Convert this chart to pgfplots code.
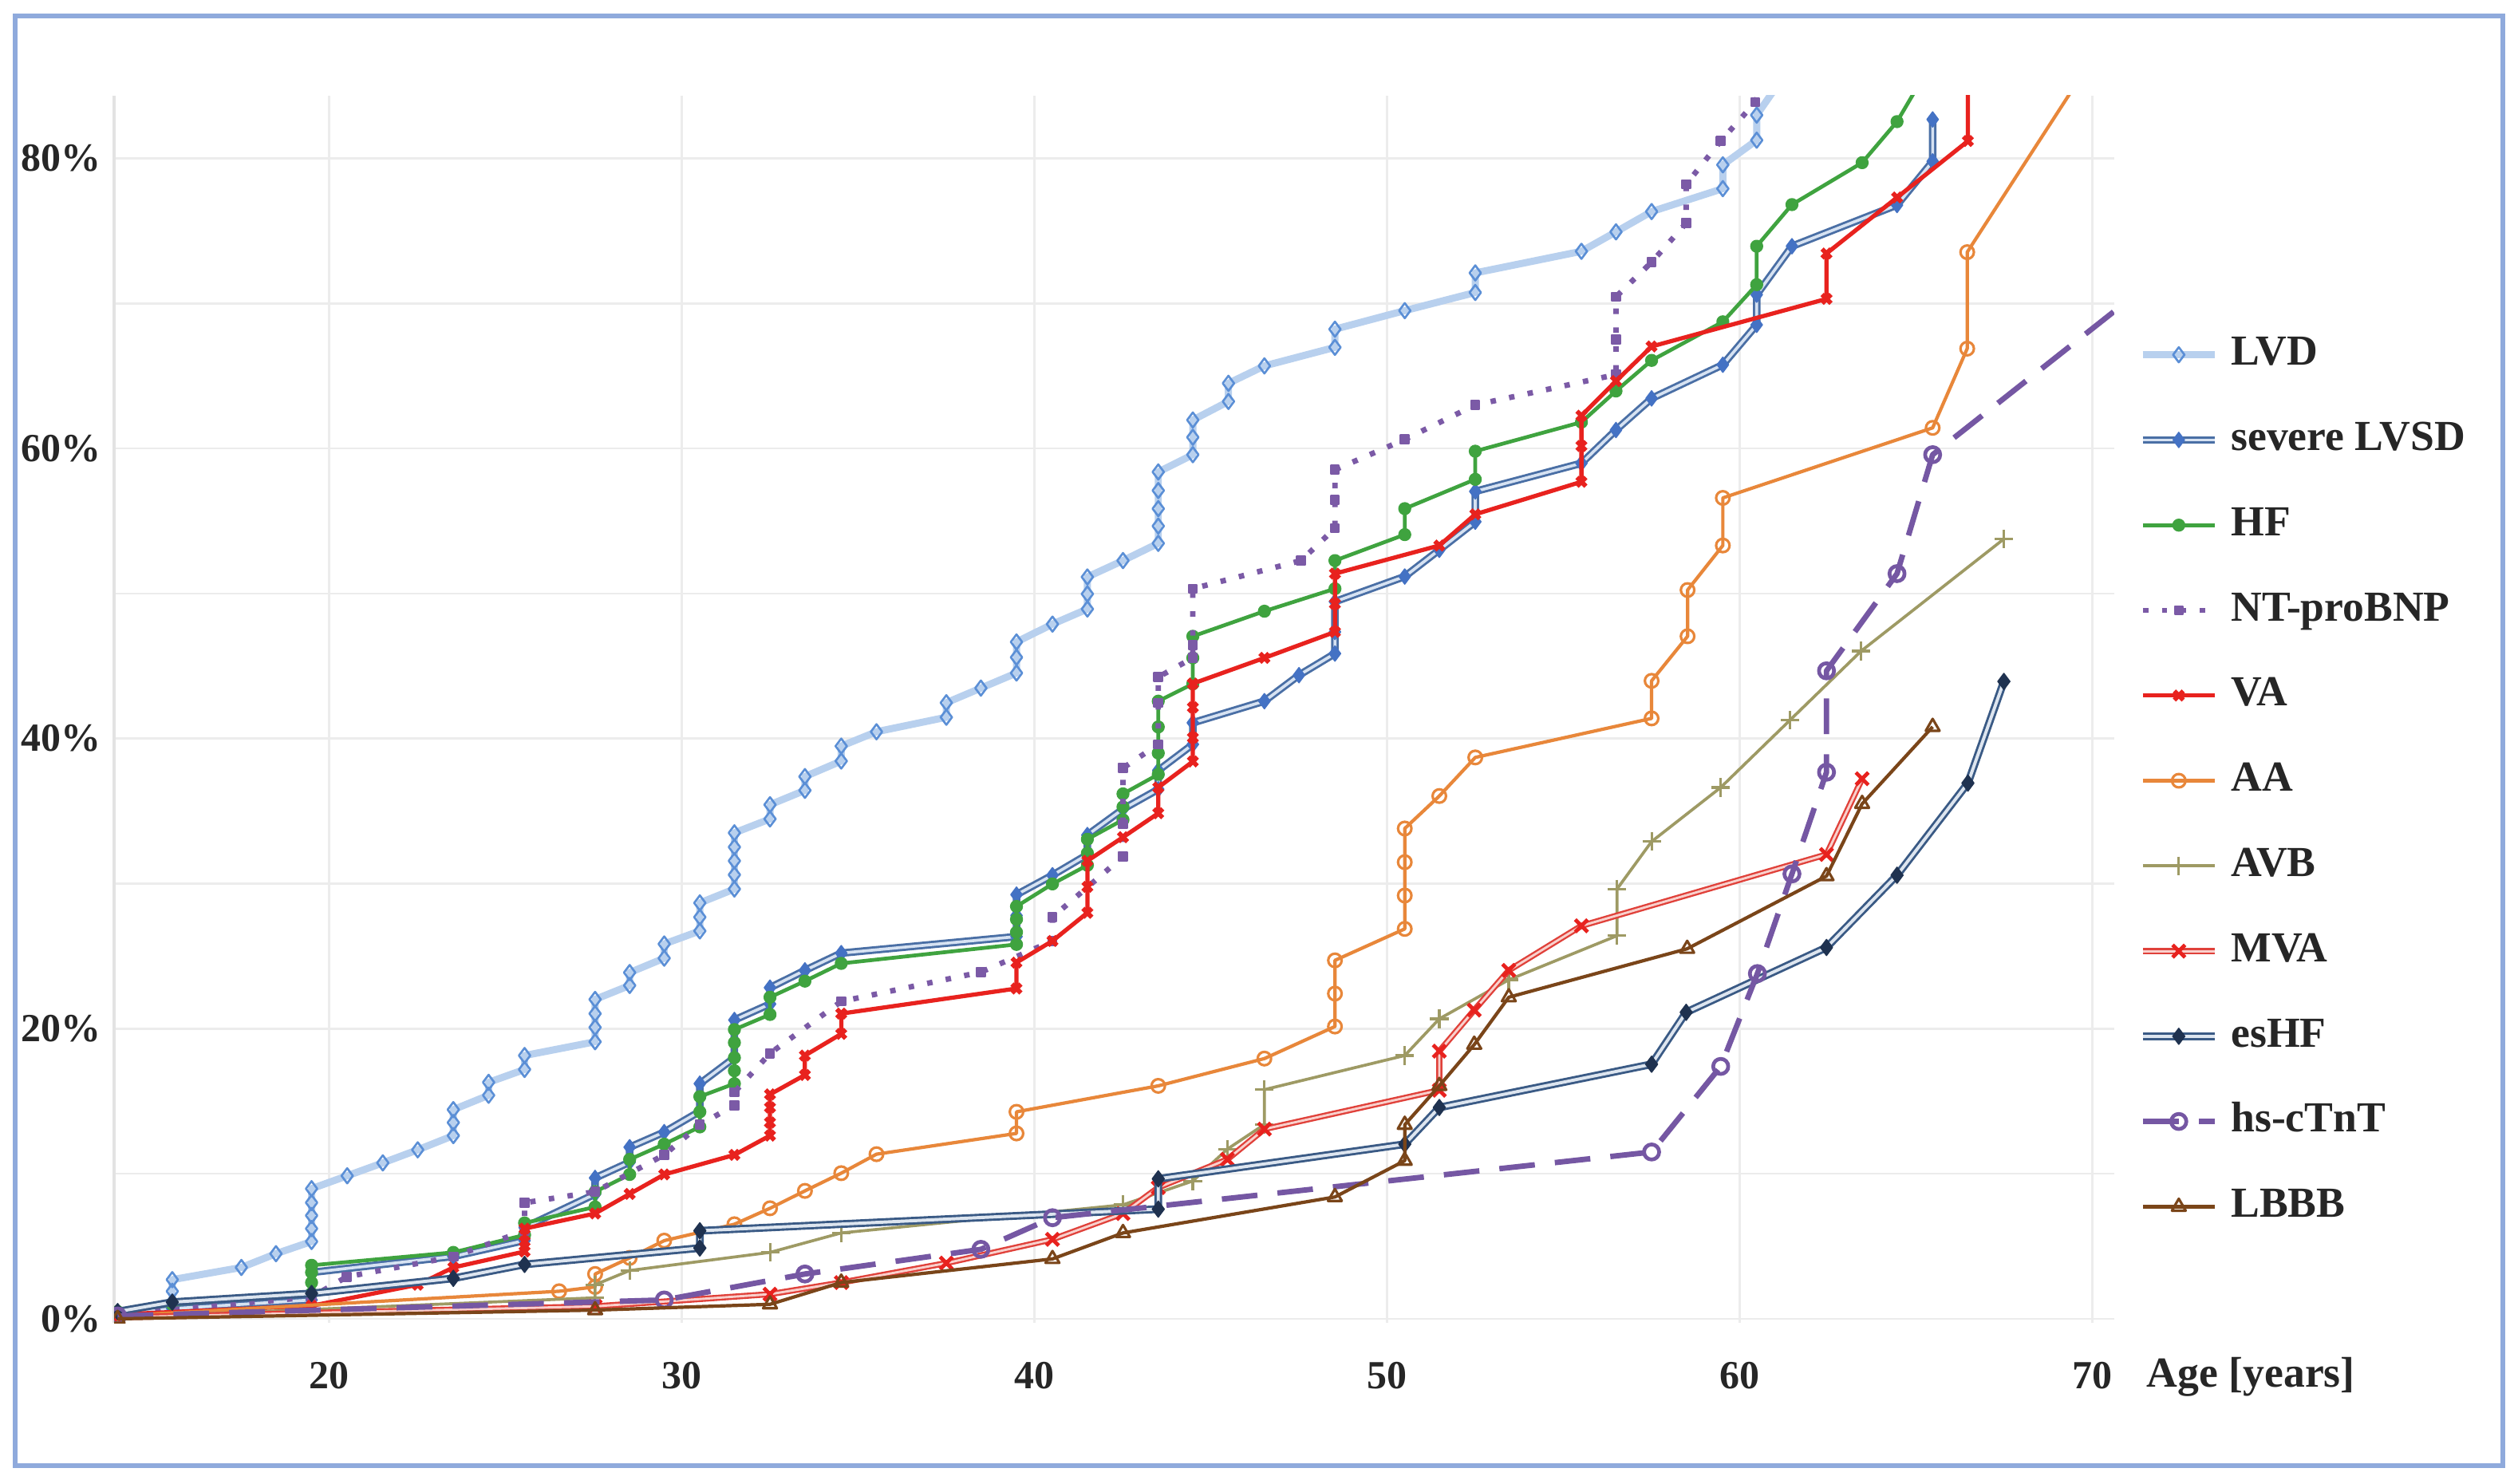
\documentclass[border=0pt]{standalone}
\usepackage{pgfplots}
\pgfplotsset{compat=1.18}
\usepackage{fontspec}
\setmainfont{Liberation Serif}

\definecolor{framec}{HTML}{8FAADC}
\definecolor{lvdline}{HTML}{B8D0EE}
\definecolor{lvdmark}{HTML}{5B8FD6}
\definecolor{svouter}{HTML}{4A6FA5}
\definecolor{svcore}{HTML}{D6E2F2}
\definecolor{svmark}{HTML}{4472C4}
\definecolor{hfc}{HTML}{3FA33F}
\definecolor{ntpc}{HTML}{7B5AA6}
\definecolor{vac}{HTML}{E8221E}
\definecolor{aac}{HTML}{E8873A}
\definecolor{avbc}{HTML}{9E9A64}
\definecolor{mvaouter}{HTML}{E0413A}
\definecolor{mvacore}{HTML}{F9D0CC}
\definecolor{esouter}{HTML}{3A5A85}
\definecolor{escore}{HTML}{DDE5EF}
\definecolor{esmark}{HTML}{1F3250}
\definecolor{hscc}{HTML}{7557A3}
\definecolor{lbbbc}{HTML}{7A4519}

\begin{document}
\begin{tikzpicture}
\useasboundingbox (0,0) rectangle (600pt,353.6pt);
\fill[white] (0,0) rectangle (600pt,353.6pt);
\draw[framec, line width=1.1pt] (3.6pt,4.4pt) rectangle (596.4pt,349.8pt);
\begin{axis}[
  at={(27.19pt,38.31pt)}, anchor=south west,
  scale only axis, width=476.6pt, height=292.5pt,
  xmin=13.9, xmax=70.62, ymin=-0.3, ymax=84.32,
  axis lines*=left,
  axis line style={draw=gray!22, line width=0.6pt},
  x axis line style={draw=none},
  major tick length=0pt, minor tick length=0pt,
  xtick={20,30,...,70}, ytick={0,20,...,80}, minor ytick={10,30,50,70},
  xmajorgrids, ymajorgrids, yminorgrids,
  major grid style={gray!15, line width=0.5pt},
  minor grid style={gray!15, line width=0.5pt},
  /pgf/number format/assume math mode=true,
  yticklabel={\pgfmathprintnumber{\tick}\%},
  ticklabel style={font=\fontsize{9.5}{11}\selectfont\bfseries, text=black!85},
  xticklabel style={yshift=-5.8pt},
  yticklabel style={xshift=0.3pt},
  xlabel={Age [years]},
  xlabel style={at={(rel axis cs:1,0)}, anchor=west, inner sep=0pt,
    xshift=7.6pt, yshift=-12.8pt, font=\fontsize{10.2}{12}\selectfont\bfseries, text=black!85},
  legend style={at={(rel axis cs:1.012,0.805)}, anchor=north west, draw=none, fill=none,
    inner sep=0pt, row sep=11.3pt, column sep=3pt,
    font=\fontsize{10.2}{12}\selectfont\bfseries, text=black!85,
    nodes={inner sep=0pt, text height=7pt, text depth=2pt}},
  legend cell align=left,
  clip marker paths=true,
  every axis plot/.append style={line join=round},
]

% LVD
\addplot[lvdline, line width=1.7pt, mark=diamond, mark size=1.8pt,
  mark options={draw=lvdmark, fill=white, line width=0.5pt}] coordinates {
(14.0,0.4)(15.55,1.16)(15.55,1.9)(15.55,2.7)(17.51,3.54)(18.49,4.49)(19.5,5.33)(19.5,6.22)(19.5,7.12)(19.5,8.01)(19.5,8.97)
(20.51,9.86)(21.52,10.75)(22.51,11.65)(23.52,12.63)(23.52,13.53)(23.52,14.42)(24.52,15.41)(24.52,16.3)(25.54,17.19)(25.54,18.15)
(27.54,19.1)(27.54,20.09)(27.54,21.04)(27.54,22.02)(28.52,22.98)(28.52,23.87)(29.5,24.86)(29.5,25.84)(30.51,26.74)(30.51,27.69)(30.51,28.67)
(31.49,29.63)(31.49,30.61)(31.49,31.57)(31.49,32.52)(31.49,33.5)(32.5,34.46)(32.5,35.44)(33.49,36.43)(33.49,37.38)(34.52,38.45)(34.52,39.48)
(35.52,40.47)(37.5,41.47)(37.5,42.47)(38.48,43.48)(39.49,44.52)(39.49,45.6)(39.49,46.66)(40.51,47.89)(41.5,48.93)(41.5,49.97)(41.5,51.14)
(42.51,52.27)(43.51,53.46)(43.51,54.65)(43.51,55.85)(43.51,57.1)(43.51,58.38)(44.49,59.57)(44.49,60.77)(44.49,61.96)(45.5,63.24)(45.5,64.49)
(46.52,65.69)(48.52,66.97)(48.52,68.22)(50.5,69.5)(52.5,70.75)(52.5,72.1)(55.51,73.59)(56.49,74.93)(57.5,76.33)(59.52,77.91)(59.52,79.55)
(60.48,81.25)(60.48,82.98)(61.2,85.5)};
\addlegendentry{LVD}

% severe LVSD
\addplot[svouter, line width=0.55pt, double=svcore, double distance=0.7pt, mark=diamond*, mark size=1.8pt,
  mark options={draw=svmark, fill=svmark, line width=0.3pt, double=svmark, double distance=0pt}] coordinates {
(14.0,0.3)(15.55,0.7)(19.5,1.3)(19.5,3.2)(23.52,4.3)(25.54,5.4)(25.54,6.3)(27.54,8.6)(27.54,9.71)(28.52,10.8)(28.52,11.83)
(29.5,12.87)(30.51,14.3)(30.51,16.21)(31.49,18.0)(31.49,20.6)(32.5,21.7)(32.5,22.83)(33.49,24.02)(34.52,25.21)(39.49,26.35)
(39.49,27.8)(39.49,29.24)(40.51,30.58)(41.5,32.0)(41.5,33.35)(42.51,35.14)(43.51,36.5)(43.51,37.8)(44.49,39.6)(44.49,41.09)
(46.52,42.58)(47.5,44.37)(48.52,45.86)(48.52,47.35)(48.52,49.44)(50.5,51.17)(51.48,53.01)(52.5,54.95)(52.5,57.04)(55.51,58.98)
(56.49,61.27)(57.5,63.45)(59.52,65.77)(60.48,68.52)(60.48,70.6)(61.48,73.94)(64.46,76.78)(65.47,79.79)(65.47,82.68)};
\addlegendentry{severe LVSD}

% HF
\addplot[hfc, line width=0.9pt, mark=*, mark size=1.1pt, mark options={fill=hfc}] coordinates {
(14.0,0.5)(15.55,1.0)(19.5,1.75)(19.5,2.5)(19.5,3.2)(19.5,3.69)(23.52,4.58)(25.54,5.78)(25.54,6.61)(27.54,7.71)(27.54,8.76)
(28.52,9.95)(28.52,10.99)(29.5,12.04)(30.51,13.23)(30.51,14.27)(30.51,15.32)(31.49,16.21)(31.49,17.1)(31.49,18.0)(31.49,19.04)(31.49,19.94)
(32.5,20.98)(32.5,22.17)(33.49,23.28)(34.52,24.5)(39.49,25.81)(39.49,26.65)(39.49,27.54)(39.49,28.43)(40.51,29.98)(41.5,31.27)(41.5,32.1)(41.5,33.06)
(42.51,34.4)(42.51,35.29)(42.51,36.19)(43.51,37.53)(43.51,39.0)(43.51,40.8)(43.51,42.58)(44.49,43.77)(44.49,45.56)(44.49,47.05)
(46.52,48.78)(48.52,50.33)(48.52,52.27)(50.5,54.06)(50.5,55.85)(52.5,57.87)(52.5,59.81)(55.51,61.81)(56.49,63.96)(57.5,66.07)
(59.52,68.73)(60.48,71.29)(60.48,73.94)(61.48,76.81)(63.47,79.7)(64.46,82.53)(65.3,86)};
\addlegendentry{HF}

% NT-proBNP
\addplot[ntpc, line width=1.3pt, dash pattern=on 1.3pt off 3.2pt, mark=square*, mark size=1.0pt,
  mark options={solid, fill=ntpc, line width=0.4pt}] coordinates {
(14.0,0.3)(19.5,1.5)(20.5,2.9)(23.52,4.28)(25.54,6.07)(25.54,8.0)(27.54,8.76)(29.5,11.3)(30.51,13.38)(31.49,14.72)(31.49,15.62)
(32.5,18.3)(34.52,21.88)(38.48,23.9)(40.51,26.05)(40.51,27.69)(42.51,31.86)(42.51,34.1)(42.51,37.97)(43.51,39.6)(43.51,42.45)(43.51,44.24)
(44.49,45.56)(44.49,46.45)(44.49,50.33)(47.56,52.27)(48.52,54.5)(48.52,56.44)(48.52,58.53)(50.5,60.62)(52.5,63.0)(56.49,65.09)
(56.49,67.5)(56.49,70.46)(57.5,72.84)(58.48,75.53)(58.48,78.21)(59.46,81.19)(60.44,83.87)(60.8,86)};
\addlegendentry{NT-proBNP}

% VA
\addplot[vac, line width=1.0pt, mark=x, mark size=1.5pt, mark options={line width=1.1pt}] coordinates {
(14.0,0.3)(19.5,0.9)(22.51,2.35)(23.52,3.54)(25.54,4.64)(25.54,5.33)(25.54,6.22)(27.54,7.26)(28.52,8.61)(29.5,9.95)(31.49,11.3)
(32.5,12.63)(32.5,13.53)(32.5,14.57)(32.5,15.47)(33.49,16.81)(33.49,18.15)(34.52,19.64)(34.52,21.04)(39.49,22.77)(39.49,24.56)
(40.51,26.05)(41.5,27.99)(41.5,29.78)(41.5,31.57)(42.51,33.2)(43.51,34.85)(43.51,36.63)(44.49,38.42)(44.49,40.06)(44.49,42.15)(44.49,43.79)
(46.52,45.56)(48.52,47.35)(48.52,49.29)(48.52,51.37)(51.48,53.31)(52.5,55.46)(55.51,57.7)(55.51,60.17)(55.51,62.26)(56.49,64.64)
(57.5,67.03)(62.46,70.31)(62.46,73.44)(64.46,77.3)(66.47,81.19)(66.47,86)};
\addlegendentry{VA}

% AA
\addplot[aac, line width=0.8pt, mark=o, mark size=1.6pt, mark options={fill=white, line width=0.6pt}] coordinates {
(14.0,0.2)(26.52,1.9)(27.54,2.2)(27.54,3.09)(28.52,4.2)(29.5,5.39)(31.49,6.52)(32.5,7.62)(33.49,8.82)(34.52,10.04)(35.52,11.35)
(39.49,12.78)(39.49,14.27)(43.51,16.06)(46.52,17.94)(48.52,20.15)(48.52,22.42)(48.52,24.71)(50.5,26.88)(50.5,29.18)(50.5,31.48)(50.5,33.8)
(51.48,36.04)(52.5,38.7)(57.5,41.39)(57.5,43.98)(58.52,47.05)(58.52,50.24)(59.52,53.31)(59.52,56.59)(65.47,61.42)(66.45,66.88)(66.45,73.53)(69.77,86)};
\addlegendentry{AA}

% AVB
\addplot[avbc, line width=0.7pt, mark=+, mark size=2.2pt, mark options={line width=0.6pt}] coordinates {
(14.0,0.1)(27.54,1.45)(27.54,2.35)(28.52,3.33)(32.5,4.58)(34.52,5.92)(42.51,7.86)(44.49,9.5)(45.47,11.7)(46.52,13.4)(46.52,15.8)
(50.5,18.15)(51.48,20.68)(53.45,23.37)(56.52,26.41)(56.52,29.63)(57.5,32.9)(59.46,36.63)(61.42,41.26)(63.44,46.03)(67.49,53.76)};
\addlegendentry{AVB}

% MVA
\addplot[mvaouter, line width=0.45pt, double=mvacore, double distance=0.55pt, mark=x, mark size=2.1pt,
  mark options={line width=0.9pt, draw=vac, double=vac, double distance=0pt}] coordinates {
(14.0,0.1)(27.54,0.86)(32.5,1.7)(34.52,2.5)(37.5,3.84)(40.51,5.48)(42.51,7.26)(43.51,9.05)(45.47,10.99)(46.52,13.08)
(51.48,15.76)(51.48,18.45)(52.47,21.28)(53.45,24.02)(55.51,27.09)(62.46,32.01)(63.47,37.23)};
\addlegendentry{MVA}

% esHF
\addplot[esouter, line width=0.55pt, double=escore, double distance=0.75pt, mark=diamond*, mark size=1.9pt,
  mark options={draw=esmark, fill=esmark, line width=0.3pt, double=esmark, double distance=0pt}] coordinates {
(14.0,0.5)(15.55,1.15)(19.5,1.75)(23.52,2.79)(25.54,3.75)(30.51,4.88)(30.51,6.07)(43.51,7.56)(43.51,9.65)(50.5,12.04)
(51.48,14.57)(57.5,17.55)(58.48,21.13)(62.46,25.6)(64.46,30.58)(66.47,36.93)(67.49,43.94)};
\addlegendentry{esHF}

% hs-cTnT
\addplot[hscc, line width=1.3pt, dash pattern=on 8.5pt off 4.8pt, mark=o, mark size=1.8pt,
  mark options={solid, fill=white, line width=0.9pt}] coordinates {
(14.0,0.2)(29.5,1.3)(33.49,3.09)(38.48,4.79)(40.51,6.97)(57.5,11.5)(59.46,17.4)(60.5,23.8)(61.48,30.67)(62.46,37.68)
(62.46,44.67)(64.46,51.37)(65.47,59.57)(70.8,69.8)};
\addlegendentry{hs-cTnT}

% LBBB
\addplot[lbbbc, line width=0.8pt, mark=triangle, mark size=1.9pt, mark options={fill=white, line width=0.6pt}] coordinates {
(14.0,0.0)(27.54,0.6)(32.5,1.0)(34.52,2.5)(40.51,4.13)(42.51,5.92)(48.52,8.4)(50.5,10.9)(50.5,13.38)(51.48,16.06)
(52.47,18.9)(53.45,22.17)(58.51,25.51)(62.46,30.52)(63.47,35.5)(65.47,40.81)};
\addlegendentry{LBBB}

\end{axis}
\end{tikzpicture}
\end{document}
